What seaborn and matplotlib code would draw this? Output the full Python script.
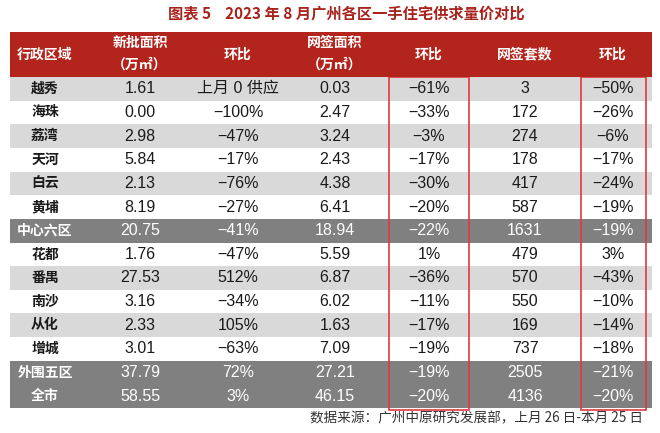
import matplotlib
matplotlib.use('Agg')
import matplotlib.pyplot as plt
import seaborn as sns
import numpy as np
from matplotlib.colors import ListedColormap
from matplotlib.patches import Rectangle

# Datos de la tabla
districts = ['越秀', '海珠', '荔湾', '天河', '白云', '黄埔', '中心六区',
             '花都', '番禺', '南沙', '从化', '增城', '外围五区', '全市']
new_area = ['1.61', '0.00', '2.98', '5.84', '2.13', '8.19', '20.75',
            '1.76', '27.53', '3.16', '2.33', '3.01', '37.79', '58.55']
new_area_mom = ['上月 0 供应', '−100%', '−47%', '−17%', '−76%', '−27%', '−41%',
                '−47%', '512%', '−34%', '105%', '−63%', '72%', '3%']
sign_area = ['0.03', '2.47', '3.24', '2.43', '4.38', '6.41', '18.94',
             '5.59', '6.87', '6.02', '1.63', '7.09', '27.21', '46.15']
sign_area_mom = ['−61%', '−33%', '−3%', '−17%', '−30%', '−20%', '−22%',
                 '1%', '−36%', '−11%', '−17%', '−19%', '−19%', '−20%']
sign_units = ['3', '172', '274', '178', '417', '587', '1631',
              '479', '570', '550', '169', '737', '2505', '4136']
sign_units_mom = ['−50%', '−26%', '−6%', '−17%', '−24%', '−19%', '−19%',
                  '3%', '−43%', '−10%', '−14%', '−18%', '−21%', '−20%']
# 0 = blanco, 1 = gris claro, 2 = gris oscuro (subtotales)
row_type = [1, 0, 1, 0, 1, 0, 2, 0, 1, 0, 1, 0, 2, 2]

headers = [['行政区域'], ['新批面积', '（万㎡）'], ['环比'], ['网签面积', '（万㎡）'],
           ['环比'], ['网签套数'], ['环比']]

title = '图表 5    2023 年 8 月广州各区一手住宅供求量价对比'
source = '数据来源：广州中原研究发展部，上月 26 日-本月 25 日'

sns.set_theme(style='white')
plt.rcParams['font.family'] = ['Noto Sans CJK SC', 'DejaVu Sans']

W, H = 660, 433
fig = plt.figure(figsize=(6.6, 4.33), dpi=100)

x0, x1 = 10, 652
body_top, body_bot = 77, 408
head_top = 32
col_px = [45, 140, 238, 335, 429, 525, 613]

# Cuerpo de la tabla con heatmap
ax = fig.add_axes([x0 / W, 1 - body_bot / H, (x1 - x0) / W, (body_bot - body_top) / H])
ncol = 7
mat = np.repeat(np.array(row_type)[:, None], ncol, axis=1)
cmap = ListedColormap(['#ffffff', '#d9d9d9', '#808080'])
sns.heatmap(mat, cmap=cmap, vmin=-0.5, vmax=2.5, cbar=False, ax=ax,
            xticklabels=False, yticklabels=False)

def to_x(px):
    return (px - x0) / (x1 - x0) * ncol

cols = [districts, new_area, new_area_mom, sign_area, sign_area_mom, sign_units, sign_units_mom]
num_font = ['Liberation Sans', 'Noto Sans CJK SC']
for i in range(len(districts)):
    dark = row_type[i] == 2
    color = 'white' if dark else '#1a1a1a'
    for j, col in enumerate(cols):
        if j == 0:
            ax.text(to_x(col_px[j]), i + 0.5, col[i], ha='center', va='center',
                    fontsize=10, fontweight='bold', color=color,
                    family=['Noto Sans CJK SC', 'DejaVu Sans'])
        else:
            ax.text(to_x(col_px[j]), i + 0.5, col[i], ha='center', va='center',
                    fontsize=11.5, color=color, family=num_font)

# Recuadros rojos
for a, b in [(389, 469), (581, 646)]:
    ax.add_patch(Rectangle((to_x(a), -0.02), to_x(b) - to_x(a), 14.1, fill=False,
                           edgecolor='#e0393e', linewidth=1.2, clip_on=False, zorder=5))

# Encabezado
hax = fig.add_axes([x0 / W, 1 - body_top / H, (x1 - x0) / W, (body_top - head_top) / H])
hax.set_facecolor('#b3241c')
hax.set_xlim(x0, x1)
hax.set_ylim(body_top, head_top)
hax.set_xticks([])
hax.set_yticks([])
for s in hax.spines.values():
    s.set_visible(False)
for px, lines in zip(col_px, headers):
    if len(lines) == 1:
        hax.text(px, 54.5, lines[0], ha='center', va='center', color='white',
                 fontsize=10, fontweight='bold')
    else:
        hax.text(px, 43, lines[0], ha='center', va='center', color='white',
                 fontsize=10, fontweight='bold')
        hax.text(px, 65, lines[1], ha='center', va='center', color='white',
                 fontsize=10, fontweight='bold')

fig.text(346 / W, 1 - 14 / H, title, ha='center', va='center', color='#a8231c',
         fontsize=11, fontweight='bold')
fig.text(643 / W, 1 - 418 / H, source, ha='right', va='center', color='#333333',
         fontsize=9.8)

fig.savefig('out.png', dpi=100)
